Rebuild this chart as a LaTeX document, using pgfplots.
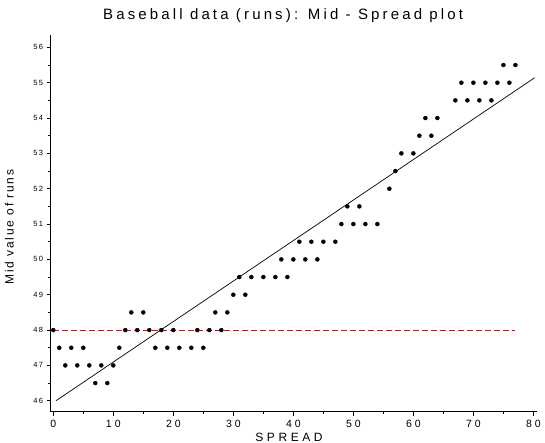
\documentclass[border=0pt]{standalone}
\usepackage{pgfplots}
\pgfplotsset{compat=1.18}
\usepackage{fontspec}
\setmainfont{Liberation Sans}
\newfontfamily\titlefont[LetterSpace=21]{Liberation Sans}
\newfontfamily\labelfont[LetterSpace=30]{Liberation Sans}
\newfontfamily\tickfont[LetterSpace=28]{Liberation Sans}
\newfontfamily\ylabfont[LetterSpace=15]{Liberation Sans}
\newfontfamily\ytickfont[LetterSpace=18]{Liberation Sans}

% Mid value of runs against spread
\pgfplotstableread{
x y
0 48
1 47.5
2 47
3 47.5
4 47
5 47.5
6 47
7 46.5
8 47
9 46.5
10 47
11 47.5
12 48
13 48.5
14 48
15 48.5
16 48
17 47.5
18 48
19 47.5
20 48
21 47.5
23 47.5
24 48
25 47.5
26 48
27 48.5
28 48
29 48.5
30 49
31 49.5
32 49
33 49.5
35 49.5
37 49.5
38 50
39 49.5
40 50
41 50.5
42 50
43 50.5
44 50
45 50.5
47 50.5
48 51
49 51.5
50 51
51 51.5
52 51
54 51
56 52
57 52.5
58 53
60 53
61 53.5
62 54
63 53.5
64 54
67 54.5
68 55
69 54.5
70 55
71 54.5
72 55
73 54.5
74 55
75 55.5
76 55
77 55.5
}\midspread

\begin{document}
\begin{tikzpicture}[x=1pt,y=1pt]
\useasboundingbox (-50.7,-31.3) rectangle (494.3,411.7);
\begin{axis}[
  at={(0,0)}, anchor=south west,
  scale only axis, width=486.3pt, height=376.7pt,
  xmin=-0.43, xmax=80.6, ymin=45.69, ymax=56.35,
  axis x line=bottom, axis y line=left,
  axis line style={-, line width=0.8pt, black},
  xtick={0,10,...,80}, minor xtick={5,15,...,75},
  ytick={46,...,56}, minor ytick={46.5,47.5,...,55.5},
  tick align=outside, major tick length=4pt, minor tick length=2.5pt,
  tick style={black, line width=0.6pt},
  /pgf/number format/assume math mode=true,
  xticklabel style={font=\tickfont\fontsize{10.5}{12}\selectfont, anchor=base, yshift=-12pt},
  yticklabel style={font=\ytickfont\fontsize{7.5}{9}\selectfont},
  title={Baseball data (runs): Mid - Spread plot},
  title style={font=\titlefont\fontsize{15}{17}\selectfont, at={(axis description cs:0.478,1.0239)}, anchor=base},
  xlabel={SPREAD},
  xlabel style={font=\labelfont\fontsize{12}{14}\selectfont, at={(axis description cs:0.49,-0.0778)}, anchor=base},
  ylabel={Mid value of runs},
  ylabel style={font=\ylabfont\fontsize{12}{14}\selectfont, at={(axis description cs:-0.085,0.49)}, anchor=center},
  clip=false,
]
\addplot[red, line width=0.8pt, dash pattern=on 5.5pt off 3.5pt] coordinates {(0,48) (77,48)};
\addplot[black, line width=0.7pt] coordinates {(0.45,46.0) (80.2,55.14)};
\addplot[only marks, mark=*, mark size=2pt, black] table[x=x, y=y] {\midspread};
\end{axis}
\end{tikzpicture}
\end{document}
